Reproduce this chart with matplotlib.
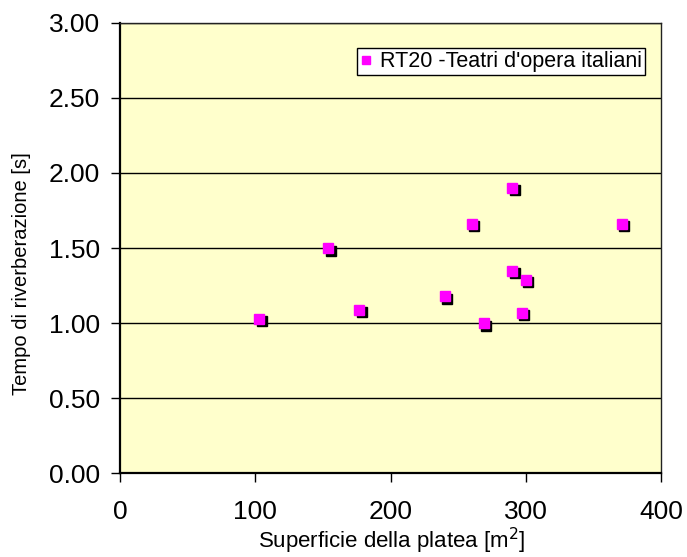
import matplotlib
matplotlib.use("Agg")
import matplotlib.pyplot as plt
import matplotlib.transforms as mtransforms
from matplotlib.lines import Line2D

plt.rcParams['font.family'] = ['Liberation Sans', 'DejaVu Sans']

# Superficie della platea [m2] vs RT20 [s]
superficie = [103, 154, 177, 240, 260, 269, 290, 290, 297, 300, 371]
rt20 = [1.03, 1.50, 1.09, 1.18, 1.66, 1.00, 1.90, 1.35, 1.07, 1.29, 1.66]

x_ticks = [0, 100, 200, 300, 400]
y_ticks = [0.0, 0.5, 1.0, 1.5, 2.0, 2.5, 3.0]
series_label = "RT20 -Teatri d'opera italiani"

fig = plt.figure(figsize=(6.87, 5.57), dpi=100)
ax = fig.add_axes([120 / 687, 1 - 473.3 / 557, (661 - 120) / 687, (473.3 - 22.7) / 557])
ax.set_facecolor('#FFFFCC')

for y in y_ticks[1:]:
    ax.axhline(y, color='black', lw=1.0, zorder=1)

# shadow squares, offset right/down
shadow = mtransforms.offset_copy(ax.transData, fig=fig, x=2.5, y=-2.5, units='dots')
ax.plot(superficie, rt20, ls='none', marker='s', ms=7.2, mfc='black', mec='black',
        transform=shadow, zorder=3, clip_on=False)
ax.plot(superficie, rt20, ls='none', marker='s', ms=7.2, mfc='#FF00FF', mec='#FF00FF',
        zorder=4, clip_on=False)

ax.set_xlim(0, 400)
ax.set_ylim(0, 3.0)
ax.set_xticks(x_ticks)
ax.set_yticks(y_ticks)
ax.set_yticklabels([f"{v:.2f}" for v in y_ticks])
ax.tick_params(axis='both', direction='out', length=6.5, width=1, labelsize=19, colors='black')
ax.tick_params(axis='x', pad=13)
ax.tick_params(axis='y', pad=8)

ax.spines['left'].set_linewidth(1.6)
ax.spines['bottom'].set_linewidth(1.6)
ax.spines['top'].set_linewidth(1.0)
ax.spines['right'].set_linewidth(1.0)
ax.spines['top'].set_color('#222222')
ax.spines['right'].set_color('#222222')

ax.set_xlabel("Superficie della platea [m$^2$]", fontsize=16, labelpad=0)
ax.set_ylabel("Tempo di riverberazione [s]", fontsize=14.5)
ax.xaxis.set_label_coords((392 - 120) / 541, (473.3 - 541) / 450.6)
ax.yaxis.set_label_coords((22 - 120) / 541, (473.3 - 274) / 450.6)
ax.xaxis.label.set_va('center')
ax.yaxis.label.set_va('center')

handle = Line2D([], [], ls='none', marker='s', ms=6, mfc='#FF00FF', mec='#FF00FF')
leg = ax.legend([handle], [series_label], loc='upper right', bbox_to_anchor=(0.970, 0.944),
                fontsize=15.5, frameon=True, fancybox=False, shadow=False,
                handlelength=0.5, handletextpad=0.4, borderpad=0.15, borderaxespad=0)
leg.get_frame().set_edgecolor('black')
leg.get_frame().set_linewidth(1.0)
leg.get_frame().set_facecolor('white')
leg.get_frame().set_alpha(1)

fig.savefig('out.png', dpi=100)
